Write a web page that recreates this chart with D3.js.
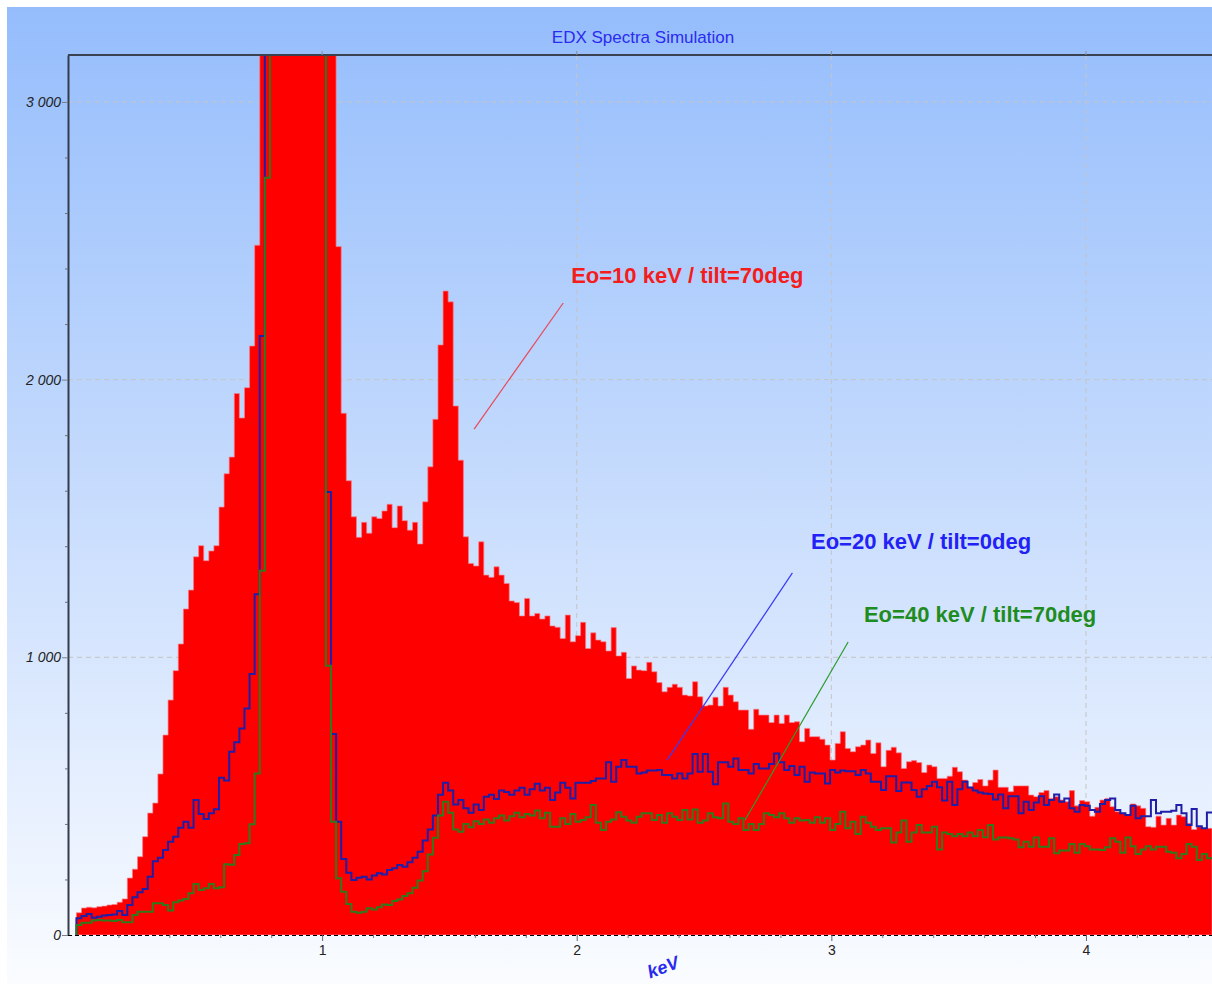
<!DOCTYPE html>
<html>
<head>
<meta charset="utf-8">
<script src="https://cdn.jsdelivr.net/npm/d3@7"></script>
<style>
  body { margin: 0; background: #fff; }
  text { font-family: "Liberation Sans", Arial, sans-serif; }
</style>
</head>
<body>
<div id="chart"></div>
<script>
// channel layout of the spectra (keV)
const binStart = 0.035;
const binWidth = 0.02;

// counts per channel, Eo=10 keV / tilt=70deg (filled)
const counts10keV = [
  80, 97, 100, 98, 102, 104, 108, 110, 118, 130,
  205, 237, 282, 354, 439, 475, 580, 720, 846, 952,
  1048, 1174, 1242, 1362, 1402, 1348, 1383, 1402, 1541, 1661,
  1721, 1950, 1862, 1971, 2121, 2484, 3900, 5600, 8200, 11500,
  14800, 17500, 19000, 19200, 17800, 15200, 12000, 9000, 6500, 4600,
  3500, 2479, 1879, 1636, 1506, 1432, 1486, 1447, 1506, 1500,
  1527, 1551, 1467, 1545, 1492, 1458, 1486, 1408, 1560, 1686,
  1857, 2125, 2319, 2280, 1905, 1710, 1434, 1338, 1329, 1416,
  1296, 1288, 1326, 1296, 1266, 1203, 1197, 1149, 1212, 1149,
  1158, 1138, 1149, 1113, 1108, 1068, 1152, 1056, 1078, 1126,
  1032, 1088, 1062, 1056, 1023, 1107, 1005, 1018, 924, 969,
  954, 952, 982, 948, 909, 876, 892, 903, 892, 864,
  861, 912, 858, 825, 828, 856, 825, 892, 864, 840,
  810, 810, 741, 813, 792, 792, 765, 792, 762, 792,
  765, 768, 696, 744, 714, 714, 705, 684, 630, 690,
  732, 672, 660, 678, 684, 702, 654, 692, 606, 665,
  676, 656, 600, 624, 628, 621, 585, 612, 606, 564,
  564, 572, 604, 588, 558, 532, 549, 560, 537, 558,
  594, 532, 532, 516, 537, 537, 537, 504, 498, 513,
  520, 492, 498, 486, 480, 520, 465, 484, 480, 428,
  460, 486, 492, 462, 444, 438, 432, 472, 465, 456,
  390, 388, 428, 396, 420, 396, 432, 426, 402, 380,
  390, 384, 384
];

// Eo=20 keV / tilt=0deg (blue step line)
const counts20keV = [
  60, 68, 76, 62, 66, 70, 72, 74, 86, 72,
  108, 136, 154, 166, 210, 266, 278, 306, 336, 354,
  386, 408, 386, 486, 436, 418, 438, 453, 566, 556,
  660, 694, 744, 816, 940, 1227, 2157, 4200, 6500, 9000,
  11500, 13000, 13500, 12800, 11000, 8500, 6000, 4200, 3300, 1595,
  724, 408, 274, 224, 198, 206, 210, 200, 214, 222,
  218, 234, 240, 252, 246, 262, 278, 300, 340, 380,
  430, 505, 548, 520, 470, 486, 456, 440, 470, 450,
  498, 505, 490, 520, 515, 505, 520, 530, 505, 525,
  545, 520, 530, 486, 513, 548, 530, 492, 548, 548,
  548, 555, 564, 564, 622, 552, 606, 630, 606, 606,
  582, 585, 592, 592, 594, 576, 576, 564, 582, 564,
  582, 652, 588, 652, 588, 543, 622, 622, 606, 636,
  594, 594, 582, 616, 600, 600, 616, 654, 622, 594,
  609, 576, 606, 552, 585, 582, 582, 546, 594, 585,
  592, 590, 590, 576, 594, 582, 552, 552, 522, 572,
  572, 519, 549, 549, 522, 498, 525, 537, 552, 532,
  484, 552, 468, 525, 552, 531, 520, 513, 510, 508,
  488, 506, 456, 500, 500, 438, 480, 450, 477, 500,
  468, 486, 506, 480, 492, 456, 444, 468, 465, 450,
  444, 472, 486, 492, 450, 438, 432, 465, 420, 428,
  428, 486, 438, 444, 444, 447, 468, 438, 396, 454,
  392, 384, 441
];

// Eo=40 keV / tilt=70deg (green step line)
const counts40keV = [
  36, 44, 44, 52, 54, 52, 52, 50, 54, 46,
  46, 72, 84, 84, 84, 114, 114, 108, 88, 118,
  124, 130, 150, 184, 162, 168, 184, 168, 172, 255,
  253, 288, 328, 330, 399, 582, 1312, 2727, 3600, 5000,
  7000, 8500, 9500, 9800, 9200, 8000, 6300, 4800, 3600, 970,
  408, 204, 156, 112, 84, 80, 84, 96, 92, 100,
  110, 108, 122, 128, 140, 150, 170, 196, 230, 290,
  350, 430, 480, 440, 380, 372, 400, 388, 410, 400,
  416, 404, 420, 430, 412, 428, 440, 424, 436, 430,
  448, 420, 440, 390, 390, 420, 400, 436, 408, 414,
  424, 468, 404, 378, 408, 416, 442, 426, 412, 404,
  426, 438, 438, 414, 432, 404, 438, 426, 414, 450,
  416, 452, 404, 412, 438, 424, 420, 474, 408, 400,
  420, 378, 400, 378, 400, 438, 432, 424, 438, 420,
  404, 420, 412, 414, 404, 424, 404, 420, 378, 400,
  444, 384, 408, 364, 426, 404, 390, 378, 384, 384,
  333, 369, 412, 336, 369, 396, 369, 369, 390, 308,
  369, 364, 356, 364, 356, 369, 356, 378, 352, 396,
  344, 351, 351, 348, 344, 316, 336, 318, 351, 318,
  318, 348, 294, 304, 304, 328, 296, 328, 320, 308,
  308, 306, 316, 348, 336, 296, 351, 320, 292, 308,
  320, 308, 318, 318, 300, 296, 276, 292, 328, 318,
  270, 292, 276
];

const yMajorTicks = [0, 1000, 2000, 3000];
const xMajorTicks = [1, 2, 3, 4];
const seriesLabels = ["Eo=10 keV / tilt=70deg", "Eo=20 keV / tilt=0deg", "Eo=40 keV / tilt=70deg"];
const titleText = "EDX Spectra Simulation";
const xAxisTitle = "keV";

// label anchors and leader lines, in keV / counts
const callouts = [
  { label: seriesLabels[0], color: "#f41c1c", lineColor: "#e8495a", at: [1.978, 2348], from: [1.947, 2276], to: [1.597, 1822] },
  { label: seriesLabels[1], color: "#2222f6", lineColor: "#3b3bf4", at: [2.92, 1390], from: [2.847, 1304], to: [2.355, 630] },
  { label: seriesLabels[2], color: "#1f8c1f", lineColor: "#2c9a2c", at: [3.128, 1127], from: [3.066, 1055], to: [2.661, 414] }
];

const width = 1212, height = 984;
const plot = { left: 68, right: 1212, top: 55, bottom: 935 };

const x = d3.scaleLinear().domain([0, 4.495]).range([67.5, 1212]);
const y = d3.scaleLinear().domain([0, 3169]).range([plot.bottom, plot.top]);

const svg = d3.select('#chart').append('svg')
  .attr('width', width)
  .attr('height', height);

const defs = svg.append('defs');
const grad = defs.append('linearGradient')
  .attr('id', 'bg')
  .attr('x1', 0).attr('y1', 0).attr('x2', 0).attr('y2', 1);
grad.append('stop').attr('offset', '0%').attr('stop-color', '#95bdfc');
grad.append('stop').attr('offset', '50%').attr('stop-color', '#c7dcfd');
grad.append('stop').attr('offset', '100%').attr('stop-color', '#fafcff');

defs.append('clipPath').attr('id', 'plotclip')
  .append('rect')
  .attr('x', plot.left).attr('y', plot.top)
  .attr('width', plot.right - plot.left).attr('height', plot.bottom - plot.top);

// panel background
svg.append('rect')
  .attr('x', 7).attr('y', 7)
  .attr('width', width - 7).attr('height', height - 7)
  .attr('fill', 'url(#bg)');

// title
svg.append('text')
  .attr('x', 643).attr('y', 43)
  .attr('text-anchor', 'middle')
  .attr('font-size', 17)
  .attr('fill', '#2b2bf0')
  .text(titleText);

// grid
const grid = svg.append('g').attr('class', 'grid');
grid.selectAll('line.h')
  .data(yMajorTicks.filter(d => d > 0))
  .enter().append('line')
  .attr('x1', plot.left).attr('x2', plot.right)
  .attr('y1', d => y(d)).attr('y2', d => y(d))
  .attr('stroke', '#c4c4c4').attr('stroke-dasharray', '5,4');
grid.selectAll('line.v')
  .data(xMajorTicks)
  .enter().append('line')
  .attr('y1', plot.top).attr('y2', plot.bottom)
  .attr('x1', d => x(d)).attr('x2', d => x(d))
  .attr('stroke', '#c4c4c4').attr('stroke-dasharray', '5,4');

function stepPoints(vals, fromZero) {
  const pts = vals.map((v, i) => [binStart + i * binWidth, v]);
  pts.push([binStart + vals.length * binWidth, vals[vals.length - 1]]);
  if (fromZero) pts.unshift([binStart, 0]);
  return pts;
}

const area = d3.area()
  .curve(d3.curveStepAfter)
  .x(d => x(d[0]))
  .y0(y(0))
  .y1(d => y(d[1]));

const line = d3.line()
  .curve(d3.curveStepAfter)
  .x(d => x(d[0]))
  .y(d => y(d[1]));

const marks = svg.append('g').attr('clip-path', 'url(#plotclip)');

marks.append('path')
  .datum(stepPoints(counts10keV, false))
  .attr('d', area)
  .attr('fill', '#ff0000')
  .attr('stroke', '#f27f8c')
  .attr('stroke-width', 0.7);

marks.append('path')
  .datum(stepPoints(counts20keV, true))
  .attr('d', line)
  .attr('fill', 'none')
  .attr('stroke', '#1e1ea8')
  .attr('stroke-width', 2);

marks.append('path')
  .datum(stepPoints(counts40keV, true))
  .attr('d', line)
  .attr('fill', 'none')
  .attr('stroke', '#2f7a1c')
  .attr('stroke-width', 2);

// y axis
const fmt = d => d3.format(',')(d).replace(',', ' ');
const yAxis = svg.append('g')
  .attr('transform', `translate(${plot.left},0)`)
  .call(d3.axisLeft(y).tickValues(yMajorTicks).tickSizeInner(6).tickSizeOuter(0).tickFormat(fmt));
yAxis.select('.domain').attr('stroke', '#343c4c').attr('stroke-width', 2);
yAxis.selectAll('.tick line').attr('stroke', '#7a7f88');
yAxis.selectAll('.tick text')
  .attr('font-family', '"Liberation Sans", Arial, sans-serif')
  .attr('font-size', 14).attr('font-style', 'italic').attr('fill', '#222').attr('x', -7);

const yMinor = svg.append('g')
  .attr('transform', `translate(${plot.left},0)`)
  .call(d3.axisLeft(y).tickValues(d3.range(200, 3169, 200).filter(d => d % 1000 !== 0)).tickSize(3).tickFormat(''));
yMinor.select('.domain').remove();
yMinor.selectAll('.tick line').attr('stroke', '#6a6f78');

// x axis
const xAxis = svg.append('g')
  .attr('transform', `translate(0,${plot.bottom})`)
  .call(d3.axisBottom(x).tickValues(xMajorTicks).tickSizeInner(6).tickSizeOuter(0).tickFormat(d3.format('d')));
xAxis.select('.domain').attr('stroke', '#000').attr('stroke-dasharray', '4,3');
xAxis.selectAll('.tick line').attr('stroke', '#666');
xAxis.selectAll('.tick text')
  .attr('font-family', '"Liberation Sans", Arial, sans-serif')
  .attr('font-size', 14).attr('fill', '#222').attr('y', 10);

const xMinor = svg.append('g')
  .attr('transform', `translate(0,${plot.bottom})`)
  .call(d3.axisBottom(x).tickValues(d3.range(0.2, 4.495, 0.2).filter(d => Math.abs(d - Math.round(d)) > 0.01)).tickSize(3).tickFormat(''));
xMinor.select('.domain').remove();
xMinor.selectAll('.tick line').attr('stroke', '#777');

// top frame with small ticks
svg.append('line')
  .attr('x1', plot.left).attr('x2', plot.right)
  .attr('y1', plot.top).attr('y2', plot.top)
  .attr('stroke', '#3a4252').attr('stroke-width', 2);
svg.append('g').selectAll('line')
  .data(xMajorTicks)
  .enter().append('line')
  .attr('x1', d => x(d)).attr('x2', d => x(d))
  .attr('y1', plot.top - 4).attr('y2', plot.top)
  .attr('stroke', '#8a8f98');

// axis title
svg.append('text')
  .attr('transform', 'translate(663,967) rotate(-20)')
  .attr('text-anchor', 'middle')
  .attr('dy', '0.35em')
  .attr('font-size', 18)
  .attr('font-weight', 'bold')
  .attr('font-style', 'italic')
  .attr('fill', '#2a2aee')
  .text(xAxisTitle);

// callouts
const notes = svg.append('g');
notes.selectAll('line')
  .data(callouts)
  .enter().append('line')
  .attr('x1', d => x(d.from[0])).attr('y1', d => y(d.from[1]))
  .attr('x2', d => x(d.to[0])).attr('y2', d => y(d.to[1]))
  .attr('stroke', d => d.lineColor)
  .attr('stroke-width', 1.2);
notes.selectAll('text')
  .data(callouts)
  .enter().append('text')
  .attr('x', d => x(d.at[0])).attr('y', d => y(d.at[1]))
  .attr('font-size', 22)
  .attr('font-weight', 'bold')
  .attr('fill', d => d.color)
  .text(d => d.label);
</script>
</body>
</html>
